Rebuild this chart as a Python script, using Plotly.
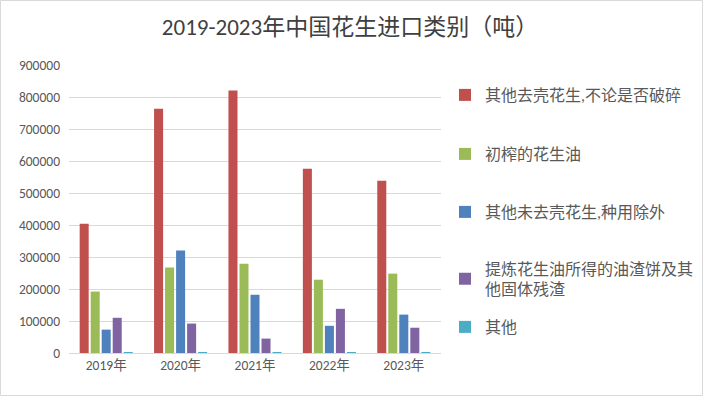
import plotly.graph_objects as go

years = ["2019年", "2020年", "2021年", "2022年", "2023年"]
series_names = [
    "其他去壳花生,不论是否破碎",
    "初榨的花生油",
    "其他未去壳花生,种用除外",
    "提炼花生油所得的油渣饼及其<br>他固体残渣",
    "其他",
]
s1 = [404000, 763000, 820000, 576000, 538000]
s2 = [192000, 267000, 279000, 229000, 248000]
s3 = [73000, 320000, 182000, 85000, 120000]
s4 = [110000, 92000, 45000, 138000, 79000]
s5 = [3000, 3000, 3000, 2500, 2500]
tick_vals = [0, 100000, 200000, 300000, 400000, 500000, 600000, 700000, 800000, 900000]
tick_text = [str(v) for v in tick_vals]

colors = ["#C0504D", "#9BBB59", "#4F81BD", "#8064A2", "#4BACC6"]
font_family = "Carlito, Calibri, 'Noto Sans CJK SC', sans-serif"

W, H = 703, 396
ml, mr, mt, mb = 69, 262, 65, 43
pw, ph = W - ml - mr, H - mt - mb

# legend item vertical centres (pixels from top)
legend_centres = [95, 154, 212, 279, 327]
legend_left = 445

fig = go.Figure()
legend_ids = ["legend", "legend2", "legend3", "legend4", "legend5"]
for i, (name, vals) in enumerate(zip(series_names, [s1, s2, s3, s4, s5])):
    fig.add_trace(go.Bar(
        x=years, y=vals, name=name, marker_color=colors[i],
        marker_line_width=0, legend=legend_ids[i], showlegend=True,
    ))

legend_layout = {}
for i, lid in enumerate(legend_ids):
    legend_layout[lid] = dict(
        x=(legend_left - ml) / pw, xanchor="left",
        y=1 - (legend_centres[i] - mt) / ph, yanchor="middle",
        font=dict(size=16, color="#595959", family=font_family),
        itemwidth=30, bgcolor="rgba(0,0,0,0)", visible=True,
    )

fig.update_layout(
    width=W, height=H,
    showlegend=True,
    margin=dict(l=ml, r=mr, t=mt, b=mb, autoexpand=False),
    paper_bgcolor="white", plot_bgcolor="white",
    barmode="group", bargap=0.26, bargroupgap=0.18,
    font=dict(family=font_family, color="#595959", size=13),
    title=dict(text="2019-2023年中国花生进口类别（吨）", x=350 / W, xref="container",
               y=1 - 27 / H, yref="container", yanchor="middle", xanchor="center",
               font=dict(size=23, color="#404040", family=font_family)),
    xaxis=dict(showgrid=False, showline=True, linecolor="#D9D9D9", linewidth=1,
               ticks="", automargin=False, tickfont=dict(size=13.5, color="#595959")),
    yaxis=dict(range=[0, 900000], tickvals=tick_vals, ticktext=tick_text,
               showgrid=True, gridcolor="#D9D9D9", gridwidth=1, zeroline=False,
               showline=False, ticks="", automargin=False, ticklabelstandoff=8,
               tickfont=dict(size=13.5, color="#595959")),
    shapes=[dict(type="rect", xref="paper", yref="paper",
                 x0=(0.5 - ml) / pw, x1=(W - 0.5 - ml) / pw,
                 y0=-(mb - 0.5) / ph, y1=1 + (mt - 0.5) / ph,
                 line=dict(color="#D9D9D9", width=1))],
    **legend_layout,
)

fig.write_html("out.html", config={"displayModeBar": False},
               post_script="document.body.style.margin='0';")
